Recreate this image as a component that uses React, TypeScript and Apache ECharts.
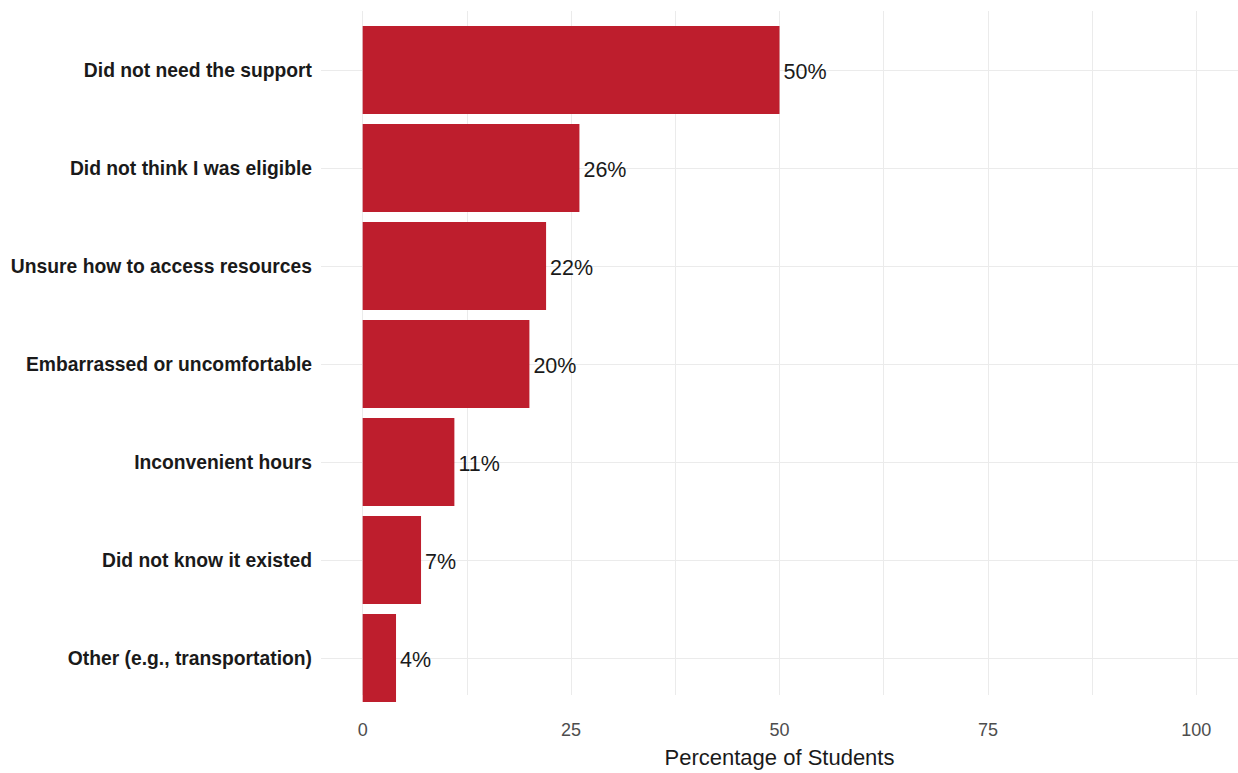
import React, { useEffect, useRef } from "react";
import * as echarts from "echarts";

const categories = [
  "Did not need the support",
  "Did not think I was eligible",
  "Unsure how to access resources",
  "Embarrassed or uncomfortable",
  "Inconvenient hours",
  "Did not know it existed",
  "Other (e.g., transportation)",
];
const percentages = [50, 26, 22, 20, 11, 7, 4];
const xTickValues = [0, 25, 50, 75, 100];
const xAxisTitle = "Percentage of Students";

const W = 1238;
const H = 773;
const PANEL_LEFT = 321;
const PANEL_RIGHT = W;
const PANEL_W = PANEL_RIGHT - PANEL_LEFT;
const EXP = PANEL_W * 5 / 110;
const BAND_TOP = 21;
const BAND_BOTTOM = 66;
const BAND = (H - BAND_TOP - BAND_BOTTOM) / categories.length;

export default function App() {
  const ref = useRef<HTMLDivElement>(null);
  useEffect(() => {
    if (!ref.current) return;
    const chart = echarts.init(ref.current, null, { renderer: "svg" });
    const font = "Liberation Sans, Arial, sans-serif";
    chart.setOption({
      animation: false,
      backgroundColor: "#ffffff",
      grid: [
        { left: PANEL_LEFT, right: 0, top: BAND_TOP, bottom: BAND_BOTTOM, containLabel: false },
        { left: PANEL_LEFT + EXP, right: EXP, top: 11, bottom: 59, containLabel: false },
        { left: PANEL_LEFT, right: 0, top: BAND_TOP + BAND / 2, bottom: BAND_BOTTOM + BAND / 2, containLabel: false },
      ],
      xAxis: [
        { type: "value", gridIndex: 0, min: -5, max: 105, show: false },
        {
          type: "value",
          gridIndex: 1,
          min: 0,
          max: 100,
          interval: 12.5,
          axisLine: { show: false },
          axisTick: { show: false },
          splitLine: { show: true, lineStyle: { color: "#ebebeb", width: 1 } },
          axisLabel: {
            margin: 26,
            color: "#4d4d4d",
            fontFamily: font,
            fontSize: 18,
            formatter: (v: number) => (xTickValues.indexOf(v) >= 0 ? String(v) : ""),
          },
          name: xAxisTitle,
          nameLocation: "middle",
          nameGap: 51,
          nameTextStyle: { color: "#1a1a1a", fontFamily: font, fontSize: 22 },
        },
        { type: "value", gridIndex: 2, min: 0, max: 1, show: false },
      ],
      yAxis: [
        {
          type: "category",
          gridIndex: 0,
          data: categories,
          inverse: true,
          axisLine: { show: false },
          axisTick: { show: false },
          splitLine: { show: false },
          axisLabel: {
            margin: 9,
            color: "#1a1a1a",
            fontWeight: "bold",
            fontFamily: font,
            fontSize: 19.3,
            padding: [5, 0, 0, 0],
          },
        },
        { type: "value", gridIndex: 1, min: 0, max: 1, show: false },
        {
          type: "value",
          gridIndex: 2,
          min: 0,
          max: categories.length - 1,
          interval: 1,
          axisLine: { show: false },
          axisTick: { show: false },
          axisLabel: { show: false },
          splitLine: { show: true, lineStyle: { color: "#ebebeb", width: 1 } },
        },
      ],
      series: [
        {
          type: "bar",
          xAxisIndex: 0,
          yAxisIndex: 0,
          data: percentages,
          barCategoryGap: "10%",
          itemStyle: { color: "#BE1E2D" },
          z: 3,
          label: {
            show: true,
            position: "right",
            distance: 4,
            offset: [0, 2],
            color: "#1a1a1a",
            fontFamily: font,
            fontSize: 21.5,
            formatter: (p: any) => p.value + "%",
          },
        },
      ],
    });
    return () => chart.dispose();
  }, []);
  return <div ref={ref} style={{ width: W, height: H, position: "absolute", left: 0, top: 0 }} />;
}
